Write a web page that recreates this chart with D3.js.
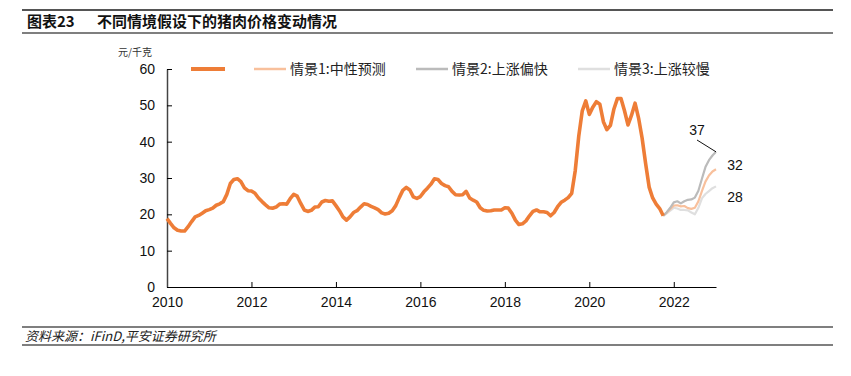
<!DOCTYPE html>
<html>
<head>
<meta charset="utf-8">
<script src="https://cdn.jsdelivr.net/npm/d3@7"></script>
<style>
body { margin:0; background:#fff; }
text { font-family: "Liberation Sans", "Noto Sans CJK SC", sans-serif; }
</style>
</head>
<body>
<div id="chart"></div>
<script>
// monthly pork price, Jan 2010 onward (元/千克)
var priceHistory = [18.8,17.5,16.3,15.6,15.4,15.4,16.6,18.0,19.3,19.7,20.3,21.0,
  21.3,21.7,22.5,22.9,23.5,25.5,28.5,29.6,29.8,29.0,27.3,26.5,
  26.4,25.8,24.5,23.5,22.6,21.8,21.7,22.0,22.8,22.9,22.8,24.3,
  25.5,25.0,23.0,21.2,20.8,21.1,22.0,22.1,23.4,23.8,23.6,23.7,
  22.4,21.0,19.3,18.4,19.3,20.5,21.0,22.0,22.9,22.7,22.2,21.8,
  21.3,20.4,20.1,20.3,21.0,22.4,24.6,26.6,27.4,26.7,24.8,24.4,
  24.9,26.2,27.2,28.3,29.8,29.6,28.5,27.9,27.6,26.3,25.4,25.3,
  25.4,26.3,24.5,23.9,23.4,21.8,21.1,20.9,21.0,21.2,21.2,21.2,
  21.8,21.7,20.3,18.4,17.2,17.4,18.2,19.6,20.8,21.2,20.7,20.7,
  20.5,19.6,20.5,22.1,23.3,23.9,24.6,25.8,32.0,41.5,48.5,51.2,
  47.5,49.5,51.0,50.3,45.5,43.3,44.5,49.0,51.9,51.9,48.5,44.6,
  47.3,50.6,46.5,41.0,34.0,27.5,24.5,22.8,21.6,19.6];
var scen1 = [19.6,20.5,21.5,22.4,22.5,22.2,22.3,21.7,21.5,21.8,23.6,26.4,29.0,30.7,31.8,32.4];
var scen2 = [19.6,20.6,21.8,23.3,23.6,23.0,23.6,24.0,24.1,24.6,26.5,29.8,33.0,34.9,36.2,37.2];
var scen3 = [19.6,20.3,21.0,21.8,21.6,21.2,21.2,21.1,20.5,20.0,21.8,24.4,25.6,26.4,27.2,27.7];
var scenStart = priceHistory.length - 1;

var legendNames = ["", "情景1:中性预测", "情景2:上涨偏快", "情景3:上涨较慢"];
var colors = ["#EE7D37", "#F8C09C", "#BBBBBB", "#DFDFDF"];
var yearTicks = [2010, 2012, 2014, 2016, 2018, 2020, 2022];
var yTicks = [0, 10, 20, 30, 40, 50, 60];
var endLabels = ["37", "32", "28"];

var W = 851, H = 376;
var svg = d3.select("#chart").append("svg").attr("width", W).attr("height", H);

// header and footer rules
svg.append("line").attr("x1", 22).attr("x2", 833).attr("y1", 10).attr("y2", 10)
  .attr("stroke", "#555").attr("stroke-width", 2);
svg.append("line").attr("x1", 22).attr("x2", 833).attr("y1", 33).attr("y2", 33)
  .attr("stroke", "#555").attr("stroke-width", 1.5);
svg.append("text").attr("x", 27).attr("y", 27).attr("font-size", 15).attr("font-weight", "bold")
  .attr("fill", "#111").style("font-family", "'Noto Sans CJK SC', sans-serif").text("图表23");
svg.append("text").attr("x", 97).attr("y", 27).attr("font-size", 15).attr("font-weight", "bold")
  .attr("fill", "#111").style("font-family", "'Noto Sans CJK SC', sans-serif").text("不同情境假设下的猪肉价格变动情况");

svg.append("line").attr("x1", 22).attr("x2", 833).attr("y1", 327).attr("y2", 327)
  .attr("stroke", "#555").attr("stroke-width", 1.5);
svg.append("line").attr("x1", 22).attr("x2", 833).attr("y1", 345).attr("y2", 345)
  .attr("stroke", "#555").attr("stroke-width", 1.5);
svg.append("text").attr("x", 25).attr("y", 341).attr("font-size", 13).attr("font-style", "italic")
  .attr("fill", "#222").style("font-family", "'Noto Sans CJK SC', sans-serif").text("资料来源：iFinD,平安证券研究所");

// scales
var x = d3.scaleLinear().domain([0, 156]).range([167, 716]);
var y = d3.scaleLinear().domain([0, 60]).range([287, 69]);

var xAxis = svg.append("g").attr("transform", "translate(0,287)")
  .call(d3.axisBottom(x).tickValues(yearTicks.map(function(d) { return (d - 2010) * 12; }))
    .tickFormat(function(d) { return 2010 + d / 12; }).tickSizeInner(-5).tickSizeOuter(0).tickPadding(10));
xAxis.select(".domain").attr("stroke", "#000");
xAxis.selectAll("text").attr("font-size", 14).attr("fill", "#111")
  .style("font-family", "'Liberation Sans', sans-serif");

var yAxis = svg.append("g").attr("transform", "translate(167,0)")
  .call(d3.axisLeft(y).tickValues(yTicks).tickSizeInner(-5).tickSizeOuter(0).tickPadding(12));
yAxis.select(".domain").attr("stroke", "#444").attr("stroke-width", 1.5);
yAxis.selectAll("text").attr("font-size", 14).attr("fill", "#111")
  .style("font-family", "'Liberation Sans', sans-serif");

svg.append("text").attr("x", 118).attr("y", 56).attr("font-size", 10).attr("fill", "#333")
  .style("font-family", "'Noto Sans CJK SC', sans-serif").text("元/千克");

// lines
var line = d3.line()
  .x(function(d) { return x(d.m); })
  .y(function(d) { return y(d.v); });

function toPts(arr, start) {
  return arr.map(function(v, i) { return {m: start + i, v: v}; });
}

svg.append("path").datum(toPts(scen3, scenStart)).attr("d", line)
  .attr("fill", "none").attr("stroke", colors[3]).attr("stroke-width", 2.2).attr("stroke-linejoin", "round");
svg.append("path").datum(toPts(scen1, scenStart)).attr("d", line)
  .attr("fill", "none").attr("stroke", colors[1]).attr("stroke-width", 2.2).attr("stroke-linejoin", "round");
svg.append("path").datum(toPts(scen2, scenStart)).attr("d", line)
  .attr("fill", "none").attr("stroke", colors[2]).attr("stroke-width", 2.2).attr("stroke-linejoin", "round");
svg.append("path").datum(toPts(priceHistory, 0)).attr("d", line)
  .attr("fill", "none").attr("stroke", colors[0]).attr("stroke-width", 3.6)
  .attr("stroke-linejoin", "round");

// end labels
var lastIdx = scenStart + scen2.length - 1;
svg.append("line").attr("x1", 697).attr("y1", 140)
  .attr("x2", x(lastIdx)).attr("y2", y(scen2[scen2.length - 1]))
  .attr("stroke", "#111").attr("stroke-width", 1);
svg.append("text").attr("x", 697).attr("y", 135).attr("text-anchor", "middle")
  .attr("font-size", 14).attr("fill", "#111").text(endLabels[0]);
svg.append("text").attr("x", 735).attr("y", 170).attr("text-anchor", "middle")
  .attr("font-size", 14).attr("fill", "#111").text(endLabels[1]);
svg.append("text").attr("x", 735).attr("y", 202).attr("text-anchor", "middle")
  .attr("font-size", 14).attr("fill", "#111").text(endLabels[2]);

// legend
var legX = [191, 254, 416, 578];
legendNames.forEach(function(name, i) {
  var lx = legX[i];
  var len = i === 0 ? 34 : 32;
  svg.append("line").attr("x1", lx).attr("x2", lx + len).attr("y1", 69).attr("y2", 69)
    .attr("stroke", colors[i]).attr("stroke-width", i === 0 ? 4 : 2.5);
  if (name) {
    svg.append("text").attr("x", lx + 36).attr("y", 74).attr("font-size", 14).attr("fill", "#222")
      .style("font-family", "'Noto Sans CJK SC', sans-serif").text(name);
  }
});
</script>
</body>
</html>
